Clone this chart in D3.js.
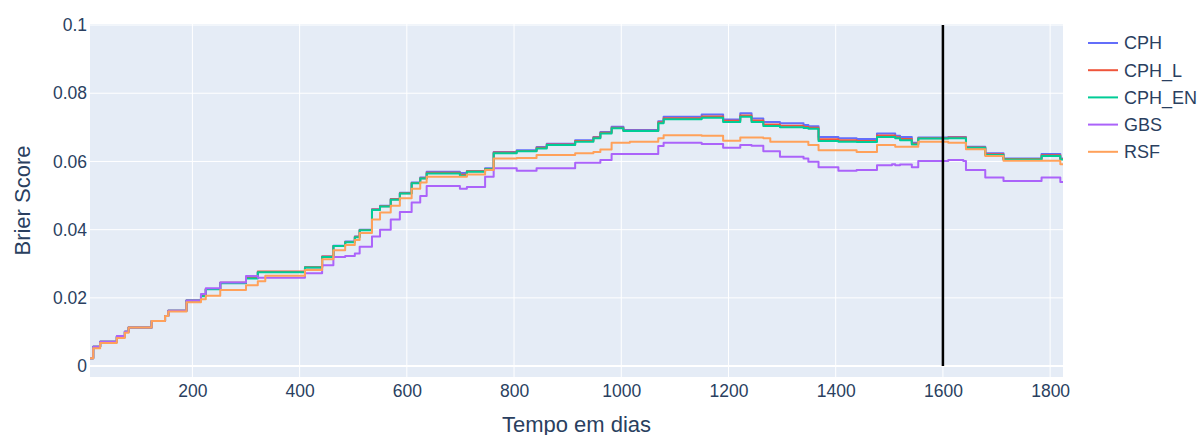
<!DOCTYPE html>
<html>
<head>
<meta charset="utf-8">
<script src="https://cdn.jsdelivr.net/npm/d3@7"></script>
<style>
  body { margin: 0; background: #fff; }
  svg { display: block; font-family: "Liberation Sans", Arial, sans-serif; }
</style>
</head>
<body>
<svg id="chart"></svg>
<script>
// step times (days) shared by every model
const days = [9, 15, 28, 59, 74, 81, 124, 149, 155, 189, 216, 225, 252, 300, 322, 336, 410, 442, 463,
  485, 503, 512, 535, 550, 570, 587, 609, 625, 637, 699, 712, 746, 762, 805, 842, 861, 914, 948, 961,
  982, 1004, 1016, 1069, 1079, 1150, 1190, 1222, 1243, 1265, 1278, 1296, 1340, 1349, 1368, 1405, 1439,
  1477, 1505, 1511, 1520, 1542, 1554, 1610, 1638, 1643, 1679, 1713, 1784, 1819, 1824];

const cph = [0.0023, 0.0057, 0.0071, 0.0086, 0.0101, 0.0113, 0.0132, 0.0147, 0.0162, 0.0192, 0.0207, 0.0226, 0.0244, 0.0258, 0.0276, 0.0276, 0.0290, 0.0321, 0.0353,
  0.0365, 0.0380, 0.0400, 0.0460, 0.0470, 0.0490, 0.0508, 0.0538, 0.0553, 0.0570, 0.0566, 0.0572, 0.0580, 0.0628, 0.0633, 0.0642, 0.0652, 0.0662, 0.0672, 0.0686,
  0.0702, 0.0692, 0.0692, 0.0718, 0.0731, 0.0738, 0.0723, 0.0741, 0.0726, 0.0716, 0.0716, 0.0712, 0.0707, 0.0703, 0.0672, 0.0668, 0.0666,
  0.0682, 0.0682, 0.0675, 0.0672, 0.0655, 0.0670, 0.0672, 0.0672, 0.0643, 0.0624, 0.0609, 0.0622, 0.0609, 0.0609];

const cphL = [0.0023, 0.0057, 0.0071, 0.0086, 0.0101, 0.0113, 0.0132, 0.0147, 0.0162, 0.0192, 0.0207, 0.0226, 0.0244, 0.0258, 0.0277, 0.0277, 0.0290, 0.0321, 0.0352,
  0.0364, 0.0379, 0.0399, 0.0459, 0.0469, 0.0489, 0.0507, 0.0537, 0.0551, 0.0567, 0.0561, 0.0571, 0.0578, 0.0626, 0.0631, 0.0640, 0.0650, 0.0660, 0.0670, 0.0684,
  0.0699, 0.0690, 0.0690, 0.0715, 0.0727, 0.0732, 0.0719, 0.0735, 0.0720, 0.0708, 0.0708, 0.0705, 0.0701, 0.0699, 0.0665, 0.0662, 0.0660,
  0.0676, 0.0676, 0.0671, 0.0666, 0.0652, 0.0668, 0.0670, 0.0670, 0.0641, 0.0621, 0.0607, 0.0618, 0.0607, 0.0607];

const cphEN = [0.0023, 0.0057, 0.0071, 0.0086, 0.0101, 0.0113, 0.0132, 0.0147, 0.0162, 0.0192, 0.0205, 0.0225, 0.0243, 0.0257, 0.0275, 0.0275, 0.0289, 0.0320, 0.0352,
  0.0363, 0.0378, 0.0398, 0.0458, 0.0468, 0.0488, 0.0506, 0.0536, 0.0550, 0.0565, 0.0558, 0.0570, 0.0577, 0.0624, 0.0630, 0.0638, 0.0648, 0.0658, 0.0668, 0.0682,
  0.0697, 0.0689, 0.0689, 0.0712, 0.0724, 0.0728, 0.0716, 0.0731, 0.0716, 0.0704, 0.0704, 0.0700, 0.0698, 0.0696, 0.0660, 0.0658, 0.0657,
  0.0672, 0.0672, 0.0668, 0.0662, 0.0650, 0.0667, 0.0668, 0.0668, 0.0640, 0.0619, 0.0606, 0.0616, 0.0606, 0.0606];

const gbs = [0.0023, 0.0057, 0.0071, 0.0088, 0.0101, 0.0113, 0.0132, 0.0147, 0.0162, 0.0192, 0.0211, 0.0228, 0.0245, 0.0264, 0.0259, 0.0259, 0.0272, 0.0296, 0.0320,
  0.0323, 0.0330, 0.0350, 0.0380, 0.0400, 0.0430, 0.0452, 0.0480, 0.0499, 0.0528, 0.0520, 0.0525, 0.0555, 0.0580, 0.0573, 0.0580, 0.0580, 0.0596, 0.0596, 0.0604,
  0.0622, 0.0622, 0.0622, 0.0645, 0.0655, 0.0651, 0.0640, 0.0648, 0.0646, 0.0630, 0.0630, 0.0614, 0.0609, 0.0599, 0.0583, 0.0573, 0.0575,
  0.0589, 0.0592, 0.0589, 0.0591, 0.0583, 0.0601, 0.0604, 0.0601, 0.0575, 0.0553, 0.0543, 0.0553, 0.0540, 0.0540];

const rsf = [0.0023, 0.0052, 0.0068, 0.0082, 0.0098, 0.0113, 0.0132, 0.0147, 0.0160, 0.0187, 0.0196, 0.0206, 0.0223, 0.0237, 0.0249, 0.0265, 0.0282, 0.0313, 0.0340,
  0.0355, 0.0370, 0.0390, 0.0430, 0.0450, 0.0470, 0.0492, 0.0520, 0.0538, 0.0555, 0.0555, 0.0562, 0.0575, 0.0609, 0.0610, 0.0619, 0.0619, 0.0624, 0.0628, 0.0635,
  0.0655, 0.0655, 0.0658, 0.0668, 0.0677, 0.0675, 0.0661, 0.0670, 0.0670, 0.0668, 0.0658, 0.0658, 0.0658, 0.0648, 0.0633, 0.0633, 0.0628,
  0.0648, 0.0648, 0.0643, 0.0643, 0.0643, 0.0658, 0.0655, 0.0655, 0.0636, 0.0616, 0.0602, 0.0602, 0.0592, 0.0592];

const names = ['CPH', 'CPH_L', 'CPH_EN', 'GBS', 'RSF'];
const colors = ['#636efa', '#EF553B', '#00cc96', '#ab63fa', '#FFA15A'];
const seriesValues = [cph, cphL, cphEN, gbs, rsf];
const xTicks = [200, 400, 600, 800, 1000, 1200, 1400, 1600, 1800];
const yTicks = [0, 0.02, 0.04, 0.06, 0.08, 0.1];
const markDay = 1600;

const width = 1199, height = 435;
const plot = { left: 90, right: 1063, top: 24, bottom: 377 };
const textColor = '#2a3f5f';
const font = '"Liberation Sans", Arial, sans-serif';

const svg = d3.select('#chart')
  .attr('width', width)
  .attr('height', height);

const x = d3.scaleLinear().domain([9, 1824]).range([plot.left, plot.right]);
const y = d3.scaleLinear().domain([-0.0032, 0.1003]).range([plot.bottom, plot.top]);

svg.append('rect')
  .attr('x', plot.left).attr('y', plot.top)
  .attr('width', plot.right - plot.left).attr('height', plot.bottom - plot.top)
  .attr('fill', '#E5ECF6');

// grid
svg.append('g').selectAll('line')
  .data(xTicks)
  .enter().append('line')
  .attr('x1', d => x(d)).attr('x2', d => x(d))
  .attr('y1', plot.top).attr('y2', plot.bottom)
  .attr('stroke', '#fff').attr('stroke-width', 1);
svg.append('g').selectAll('line')
  .data(yTicks)
  .enter().append('line')
  .attr('x1', plot.left).attr('x2', plot.right)
  .attr('y1', d => y(d)).attr('y2', d => y(d))
  .attr('stroke', '#fff').attr('stroke-width', d => d === 0 ? 2 : 1);

// axes (labels only, plotly style)
const xAxis = svg.append('g')
  .attr('transform', 'translate(0,' + plot.bottom + ')')
  .call(d3.axisBottom(x).tickValues(xTicks).tickSize(0).tickPadding(8).tickFormat(d3.format('d')));
const yAxis = svg.append('g')
  .attr('transform', 'translate(' + plot.left + ',0)')
  .call(d3.axisLeft(y).tickValues(yTicks).tickSize(0).tickPadding(3).tickFormat(d => d === 0 ? '0' : String(+d.toFixed(2))));
[xAxis, yAxis].forEach(g => {
  g.select('.domain').remove();
  g.selectAll('text').attr('fill', textColor).attr('font-size', '17.5px').attr('font-family', font);
});

// clip for lines
svg.append('clipPath').attr('id', 'clip')
  .append('rect')
  .attr('x', plot.left).attr('y', plot.top)
  .attr('width', plot.right - plot.left).attr('height', plot.bottom - plot.top);

const line = d3.line()
  .x((d, i) => x(days[i]))
  .y(d => y(d))
  .curve(d3.curveStepAfter);

const lines = svg.append('g').attr('clip-path', 'url(#clip)');
seriesValues.forEach((vals, k) => {
  lines.append('path')
    .datum(vals)
    .attr('fill', 'none')
    .attr('stroke', colors[k])
    .attr('stroke-width', 2)
    .attr('stroke-linejoin', 'round')
    .attr('d', line);
});

// vertical marker
svg.append('line')
  .attr('x1', x(markDay)).attr('x2', x(markDay))
  .attr('y1', y(0)).attr('y2', y(0.1))
  .attr('stroke', '#000').attr('stroke-width', 2.5);

// axis titles
svg.append('text')
  .attr('x', (plot.left + plot.right) / 2).attr('y', 432)
  .attr('text-anchor', 'middle')
  .attr('fill', textColor).attr('font-size', '22px')
  .text('Tempo em dias');
svg.append('text')
  .attr('transform', 'translate(30,' + (plot.top + plot.bottom) / 2 + ') rotate(-90)')
  .attr('text-anchor', 'middle')
  .attr('fill', textColor).attr('font-size', '22px')
  .text('Brier Score');

// legend
const legend = svg.append('g').attr('transform', 'translate(1088,43)');
const item = legend.selectAll('g')
  .data(names)
  .enter().append('g')
  .attr('transform', (d, i) => 'translate(0,' + i * 27.2 + ')');
item.append('line')
  .attr('x1', 0).attr('x2', 30)
  .attr('stroke', (d, i) => colors[i]).attr('stroke-width', 2);
item.append('text')
  .attr('x', 36).attr('dy', '0.35em')
  .attr('fill', textColor).attr('font-size', '18px')
  .text(d => d);
</script>
</body>
</html>
